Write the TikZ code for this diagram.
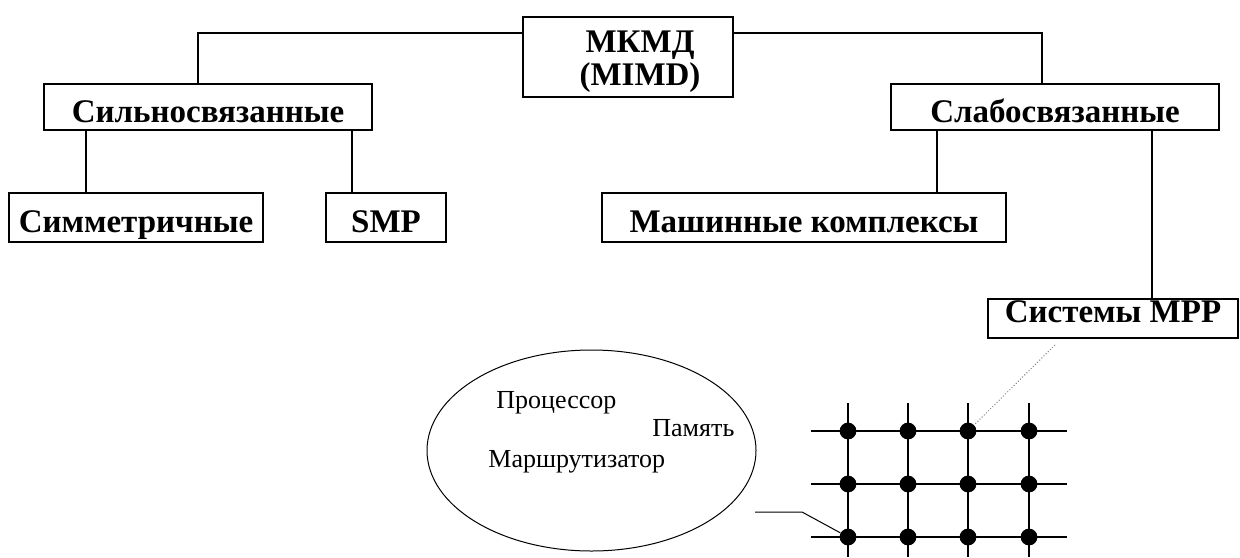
\documentclass[tikz,border=0pt]{standalone}
\usepackage{fontspec}
\setmainfont{Liberation Serif}
\usetikzlibrary{calc,arrows,shapes}
\tikzset{
    block/.style = {draw, rectangle, line width=0.8pt, inner sep=0pt,
        minimum height=23pt, align=center, text height=15pt, text depth=0pt,
        font=\bfseries\fontsize{16.5}{16.5}\selectfont},
    leaf/.style = {block, minimum height=24.5pt},
    link/.style = {draw, line width=1pt},
    wire/.style = {draw, line width=1pt},
    dot/.style = {circle, fill, inner sep=0pt, minimum size=8.4pt},
    note/.style = {anchor=base west, inner sep=0pt,
        font=\fontsize{13}{13}\selectfont}
}

\begin{document}
\begin{tikzpicture}[x=0.5pt, y=-0.5pt]
    \useasboundingbox (0,0) rectangle (1240,557);
    % tree of boxes
    \node [block, minimum width=105pt, minimum height=40pt, text height=, text depth=] (mimd) at (628,57)
        {\rule{0pt}{16pt}\hspace*{12pt}МКМД\\ \hspace*{12pt}(MIMD)};
    \node [block, minimum width=164pt] (strong) at (208,107) {Сильносвязанные};
    \node [block, minimum width=164pt] (weak) at (1055,107) {Слабосвязанные};
    \node [leaf, minimum width=127pt] (sym) at (136,217.5) {Симметричные};
    \node [leaf, minimum width=60pt] (smp) at (386,217.5) {SMP};
    \node [leaf, minimum width=202pt] (cluster) at (804,217.5) {Машинные комплексы};
    \node [block, minimum width=125pt, minimum height=19.5pt,
        text height=11pt, text depth=7.5pt] (mpp) at (1113,318.5) {Системы MPP};
    \draw [link] (mimd.west |- 0,33) -| (strong.north -| 198,0);
    \draw [link] (mimd.east |- 0,33) -| (weak.north -| 1042,0);
    \draw [link] (strong.south -| 86,0) -- (sym.north -| 86,0);
    \draw [link] (strong.south -| 352,0) -- (smp.north -| 352,0);
    \draw [link] (weak.south -| 937,0) -- (cluster.north -| 937,0);
    \draw [link] (weak.south -| 1152,0) -- (mpp.north -| 1152,0);
    % node of the MPP system
    \node [draw, ellipse, line width=0.5pt, minimum width=164.5pt, minimum height=100.5pt] (cell) at (591.5,450.5) {};
    \node [note] (cpu) at (496,408) {Процессор};
    \node [note] (mem) at (652,436) {Память};
    \node [note] (router) at (488,467) {Маршрутизатор};
    % grid of nodes
    \foreach \i/\x in {1/848,2/908,3/968,4/1029}
        \foreach \j/\y in {1/431,2/484,3/537}
            \node [dot] (g-\i-\j) at (\x,\y) {};
    \foreach \j in {1,2,3}
        \draw [wire] (g-1-\j.center) ++(-37,0) -- (g-4-\j.center) -- ++(38,0);
    \foreach \i in {1,2,3,4}
        \draw [wire] (g-\i-1.center) ++(0,-28) -- (g-\i-3.center) -- ++(0,20);
    \coordinate (tail) at (755,512);
    \draw [line width=0.5pt] (tail) -- ++(47,0) -- (g-1-3);
    \coordinate (mpptail) at (1055,345);
    \draw [densely dotted, gray, line width=0.5pt] (mpptail) -- (g-3-1);
\end{tikzpicture}
\end{document}
